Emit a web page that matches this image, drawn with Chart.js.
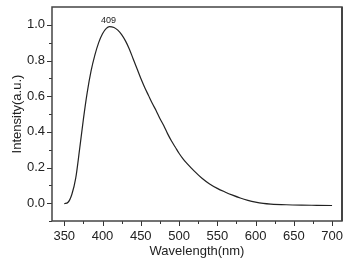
<!DOCTYPE html>
<html>
<head>
<meta charset="utf-8">
<script src="https://cdn.jsdelivr.net/npm/chart.js@4.4.1/dist/chart.umd.min.js"></script>
<style>
  html, body { margin: 0; padding: 0; background: #fff; }
  #wrap { width: 349px; height: 260px; position: relative; }
</style>
</head>
<body>
<div id="wrap"><canvas id="c"></canvas></div>
<script>
// spectrum
const wavelength = [350, 355, 360, 365, 370, 375, 380, 385, 390, 395, 400, 405, 409, 415, 420, 425, 430, 435, 440, 445, 450, 455, 460, 465, 470, 475, 480, 485, 490, 495, 500, 505, 510, 520, 530, 540, 550, 560, 570, 580, 590, 600, 610, 620, 640, 660, 680, 700];
const intensity  = [-0.003, 0.005, 0.05, 0.14, 0.30, 0.47, 0.62, 0.74, 0.83, 0.90, 0.95, 0.98, 0.99, 0.985, 0.97, 0.945, 0.91, 0.865, 0.81, 0.755, 0.70, 0.65, 0.605, 0.56, 0.52, 0.475, 0.435, 0.39, 0.35, 0.315, 0.28, 0.25, 0.225, 0.18, 0.14, 0.108, 0.083, 0.063, 0.045, 0.029, 0.016, 0.006, -0.001, -0.005, -0.009, -0.011, -0.012, -0.013];
const xTicks = [350, 400, 450, 500, 550, 600, 650, 700];
const xMinor = [375, 425, 475, 525, 575, 625, 675];
const yTicks = [0.0, 0.2, 0.4, 0.6, 0.8, 1.0];
const yMinor = [-0.1, 0.1, 0.3, 0.5, 0.7, 0.9];
const peakLabel = '409';
const peakX = 409, peakY = 0.99;

const FONT = '"Liberation Sans", Arial, sans-serif';

const frameAndTicks = {
  id: 'frameAndTicks',
  afterDraw(chart) {
    const { ctx, chartArea: a, scales: { x, y } } = chart;
    ctx.save();
    ctx.strokeStyle = '#333';
    ctx.lineWidth = 1;
    // ticks, outward
    ctx.beginPath();
    xTicks.forEach(v => { const p = Math.round(x.getPixelForValue(v)) + 0.5; ctx.moveTo(p, a.bottom); ctx.lineTo(p, a.bottom + 5); });
    xMinor.forEach(v => { const p = Math.round(x.getPixelForValue(v)) + 0.5; ctx.moveTo(p, a.bottom); ctx.lineTo(p, a.bottom + 3); });
    yTicks.forEach(v => { const p = Math.round(y.getPixelForValue(v)) + 0.5; ctx.moveTo(a.left, p); ctx.lineTo(a.left - 5, p); });
    yMinor.forEach(v => { const p = Math.round(y.getPixelForValue(v)) + 0.5; ctx.moveTo(a.left, p); ctx.lineTo(a.left - 3, p); });
    ctx.stroke();
    // box
    ctx.lineWidth = 1.5;
    ctx.strokeStyle = '#444';
    ctx.strokeRect(a.left, a.top, a.right - a.left, a.bottom - a.top);
    ctx.lineWidth = 2;
    ctx.beginPath();
    ctx.moveTo(a.right, a.top); ctx.lineTo(a.right, a.bottom);
    ctx.stroke();
    // peak label
    ctx.fillStyle = '#222';
    ctx.font = '9px ' + FONT;
    ctx.textAlign = 'center';
    ctx.textBaseline = 'bottom';
    ctx.fillText(peakLabel, x.getPixelForValue(peakX) - 1, y.getPixelForValue(peakY) - 2);
    ctx.restore();
  }
};

new Chart(document.getElementById('c'), {
  type: 'line',
  data: {
    datasets: [{
      data: wavelength.map((w, i) => ({ x: w, y: intensity[i] })),
      borderColor: '#222',
      borderWidth: 1.2,
      pointRadius: 0,
      tension: 0.4,
      cubicInterpolationMode: 'monotone',
      fill: false
    }]
  },
  options: {
    responsive: true,
    maintainAspectRatio: false,
    animation: false,
    devicePixelRatio: 1,
    layout: { padding: { top: 7, right: 7, left: 10, bottom: 0 } },
    plugins: { legend: { display: false }, tooltip: { enabled: false } },
    scales: {
      x: {
        type: 'linear',
        min: 334,
        max: 713,
        afterBuildTicks: s => { s.ticks = xTicks.map(v => ({ value: v })); },
        afterFit: s => { s.height = 39; s.paddingLeft = 0; s.paddingRight = 0; },
        grid: { display: false, drawTicks: false },
        border: { display: false },
        ticks: { color: '#222', padding: 8, font: { family: FONT, size: 13 }, maxRotation: 0, autoSkip: false },
        title: { display: true, text: 'Wavelength(nm)', color: '#222', padding: { top: 0, bottom: 1 }, font: { family: FONT, size: 13 } }
      },
      y: {
        min: -0.1,
        max: 1.1,
        afterBuildTicks: s => { s.ticks = yTicks.map(v => ({ value: v })); },
        afterFit: s => { s.width = 42; s.paddingTop = 0; s.paddingBottom = 0; },
        grid: { display: false, drawTicks: false },
        border: { display: false },
        ticks: { color: '#222', padding: 7, font: { family: FONT, size: 13 }, callback: v => v.toFixed(1) },
        title: { display: true, text: 'Intensity(a.u.)', color: '#222', padding: { top: 0, bottom: 2 }, font: { family: FONT, size: 13 } }
      }
    }
  },
  plugins: [frameAndTicks]
});
</script>
</body>
</html>
